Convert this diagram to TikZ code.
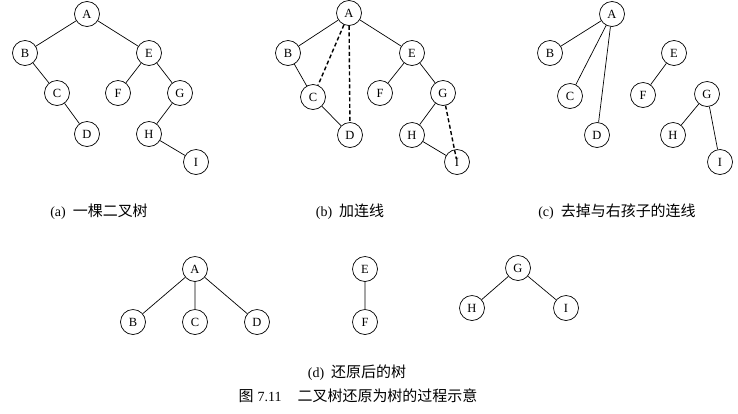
\documentclass[tikz,border=0pt]{standalone}
\usepackage{fontspec}
\setmainfont{Liberation Serif}
\newfontfamily\cjk{Noto Sans CJK SC}[Scale=1.07]
\begin{document}
\begin{tikzpicture}[x=1pt,y=-1pt,
  tn/.style={circle,draw,line width=0.7pt,minimum size=25pt,inner sep=0pt,font=\fontsize{12.5}{12.5}\selectfont},
  ed/.style={line width=0.7pt},
  dl/.style={line width=1.4pt,dash pattern=on 4pt off 2.5pt},
  captext/.style={font=\fontsize{14}{16}\selectfont}]
\useasboundingbox (0,0) rectangle (738,413);
% (a)
\node[tn] (aA) at (87,14) {A};
\node[tn] (aB) at (25,53) {B};
\node[tn] (aE) at (149,53) {E};
\node[tn] (aC) at (57,93) {C};
\node[tn] (aF) at (118,93) {F};
\node[tn] (aG) at (180,93) {G};
\node[tn] (aD) at (87,134) {D};
\node[tn] (aH) at (149,134) {H};
\node[tn] (aI) at (196,162) {I};
\draw[ed] (aA)--(aB) (aA)--(aE) (aB)--(aC) (aC)--(aD) (aE)--(aF) (aE)--(aG) (aG)--(aH) (aH)--(aI);
\node[captext] (ca) at (99,212) {(a)\hspace{7pt}{\cjk 一棵二叉树}};
% (b)
\node[tn] (bA) at (349,13) {A};
\node[tn] (bB) at (288,53) {B};
\node[tn] (bE) at (412,53) {E};
\node[tn] (bC) at (313,97) {C};
\node[tn] (bF) at (380,93) {F};
\node[tn] (bG) at (443,93) {G};
\node[tn] (bD) at (350,135) {D};
\node[tn] (bH) at (412,135) {H};
\node[tn] (bI) at (457,162) {I};
\draw[ed] (bA)--(bB) (bA)--(bE) (bB)--(bC) (bC)--(bD) (bE)--(bF) (bE)--(bG) (bG)--(bH) (bH)--(bI);
\draw[dl] (bA)--(bC);
\draw[dl] (bA)--(bD);
\draw[dl,shorten >=3pt] (bG)--(bI.center);
\node[captext] (cb) at (350,212) {(b)\hspace{7pt}{\cjk 加连线}};
% (c)
\node[tn] (cA) at (612,14) {A};
\node[tn] (cB) at (550,53) {B};
\node[tn] (cC) at (570,96) {C};
\node[tn] (cD) at (597,135) {D};
\node[tn] (cE) at (674,53) {E};
\node[tn] (cF) at (643,95) {F};
\node[tn] (cG) at (707,94) {G};
\node[tn] (cH) at (673,135) {H};
\node[tn] (cI) at (720,162) {I};
\draw[ed] (cA)--(cB) (cA)--(cC) (cA)--(cD) (cE)--(cF) (cG)--(cH) (cG)--(cI);
\node[captext] (cc) at (617,212) {(c)\hspace{7pt}{\cjk 去掉与右孩子的连线}};
% (d)
\node[tn] (dA) at (195,269) {A};
\node[tn] (dB) at (133,322) {B};
\node[tn] (dC) at (195,322) {C};
\node[tn] (dD) at (257,322) {D};
\node[tn] (dE) at (365,269) {E};
\node[tn] (dF) at (365,322) {F};
\node[tn] (dG) at (518,268) {G};
\node[tn] (dH) at (472,308) {H};
\node[tn] (dI) at (566,308) {I};
\draw[ed] (dA)--(dB) (dA)--(dC) (dA)--(dD) (dE)--(dF) (dG)--(dH) (dG)--(dI);
\node[captext] (cd) at (357,373) {(d)\hspace{7pt}{\cjk 还原后的树}};
\node[captext] (cfig) at (358,396) {{\cjk 图}\hspace{4pt}7.11\hspace{16pt}{\cjk 二叉树还原为树的过程示意}};
\end{tikzpicture}
\end{document}
